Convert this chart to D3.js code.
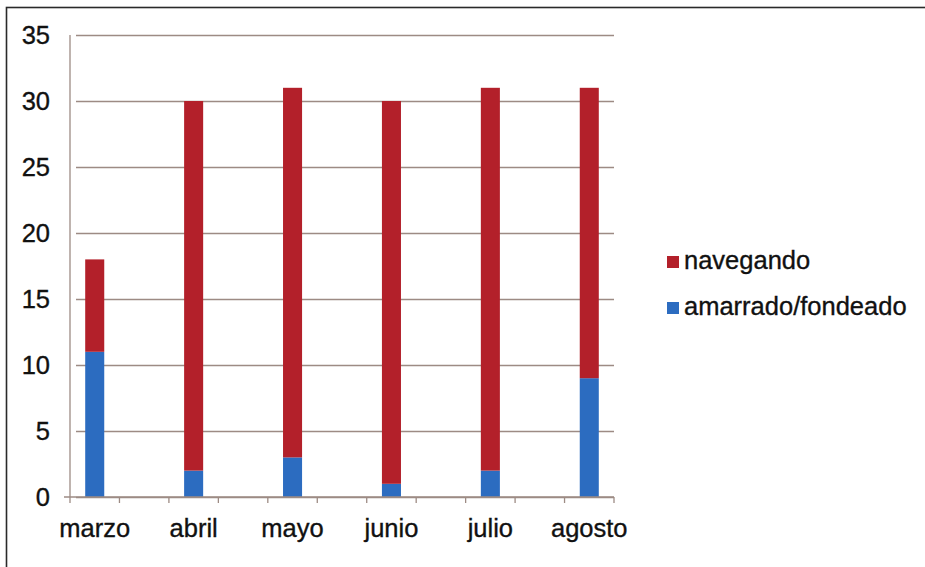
<!DOCTYPE html>
<html>
<head>
<meta charset="utf-8">
<script src="https://cdn.jsdelivr.net/npm/d3@7"></script>
<style>
  html, body { margin: 0; padding: 0; background: #fff; }
  svg { display: block; }
  text { font-family: "Liberation Sans", Arial, sans-serif; fill: #111; stroke: #111; stroke-width: 0.35px; }
</style>
</head>
<body>
<svg id="chart" width="925" height="567"></svg>
<script>
// Days per month, split by vessel status
const months = ["marzo", "abril", "mayo", "junio", "julio", "agosto"];
const amarrado = [11, 2, 3, 1, 2, 9];
const navegando = [7, 28, 28, 29, 29, 22];
const yTicks = [0, 5, 10, 15, 20, 25, 30, 35];
const seriesNames = ["navegando", "amarrado/fondeado"];
const seriesColors = ["#b3202a", "#2c6cc0"];

const fontSize = 25.5;
const svg = d3.select("#chart");

// outer frame (runs past the right and bottom edges)
svg.append("rect")
  .attr("x", 6.5).attr("y", 7.5)
  .attr("width", 930).attr("height", 580)
  .attr("fill", "none").attr("stroke", "#2a2a2a").attr("stroke-width", 1.6);

const plot = { left: 70, right: 614, top: 35, bottom: 497 };

// each month sits in its own slot with an empty slot between months
const slots = [];
months.forEach((m, i) => {
  slots.push(m);
  if (i < months.length - 1) slots.push("_gap" + i);
});

const x = d3.scaleBand().domain(slots).range([plot.left, plot.right]).padding(0);
const y = d3.scaleLinear().domain([0, 35]).range([plot.bottom, plot.top]);

const gridColor = "#9d8b84";

// horizontal gridlines with outward ticks
svg.append("g")
  .attr("transform", `translate(${plot.left},0)`)
  .call(d3.axisLeft(y).tickValues(yTicks).tickSize(-(plot.right - plot.left)).tickSizeOuter(0).tickFormat(""))
  .call(g => g.select(".domain").remove())
  .call(g => g.selectAll("line").attr("stroke", gridColor).attr("stroke-width", 1.3).attr("x1", 6));

// y labels
svg.append("g")
  .selectAll("text")
  .data(yTicks)
  .join("text")
  .attr("x", 50)
  .attr("y", d => y(d))
  .attr("dy", "0.36em")
  .attr("text-anchor", "end")
  .attr("font-size", fontSize)
  .text(d => d);

// stacked bars
const rows = months.map((m, i) => ({ month: m, amarrado: amarrado[i], navegando: navegando[i] }));
const stack = d3.stack().keys(["amarrado", "navegando"])(rows);
const colorOf = { amarrado: seriesColors[1], navegando: seriesColors[0] };
const barW = x.bandwidth() * 0.385;

svg.append("g")
  .selectAll("g")
  .data(stack)
  .join("g")
  .attr("fill", s => colorOf[s.key])
  .selectAll("rect")
  .data(s => s)
  .join("rect")
  .attr("x", d => x(d.data.month) + (x.bandwidth() - barW) / 2)
  .attr("y", d => y(d[1]))
  .attr("width", barW)
  .attr("height", d => y(d[0]) - y(d[1]));

// y axis line
svg.append("line")
  .attr("x1", plot.left).attr("x2", plot.left)
  .attr("y1", plot.top).attr("y2", plot.bottom)
  .attr("stroke", gridColor).attr("stroke-width", 1.3);

// x axis with ticks at every slot boundary
const bounds = slots.map(s => x(s)).concat([plot.right]);
const xAxis = svg.append("g");
xAxis.append("line")
  .attr("x1", plot.left - 6).attr("x2", plot.right)
  .attr("y1", plot.bottom).attr("y2", plot.bottom)
  .attr("stroke", gridColor).attr("stroke-width", 1.3);
xAxis.selectAll("line.tick")
  .data(bounds)
  .join("line")
  .attr("class", "tick")
  .attr("x1", d => d).attr("x2", d => d)
  .attr("y1", plot.bottom).attr("y2", plot.bottom + 6)
  .attr("stroke", gridColor).attr("stroke-width", 1.3);

svg.append("g")
  .selectAll("text")
  .data(months)
  .join("text")
  .attr("x", d => x(d) + x.bandwidth() / 2)
  .attr("y", 537)
  .attr("text-anchor", "middle")
  .attr("font-size", fontSize)
  .text(d => d);

// legend
const legend = svg.append("g");
const legendY = [262, 308];
seriesNames.forEach((name, i) => {
  legend.append("rect")
    .attr("x", 667).attr("y", legendY[i] - 6)
    .attr("width", 12).attr("height", 12)
    .attr("fill", seriesColors[i]);
  legend.append("text")
    .attr("x", 684).attr("y", legendY[i] + 7)
    .attr("font-size", fontSize)
    .text(name);
});
</script>
</body>
</html>
